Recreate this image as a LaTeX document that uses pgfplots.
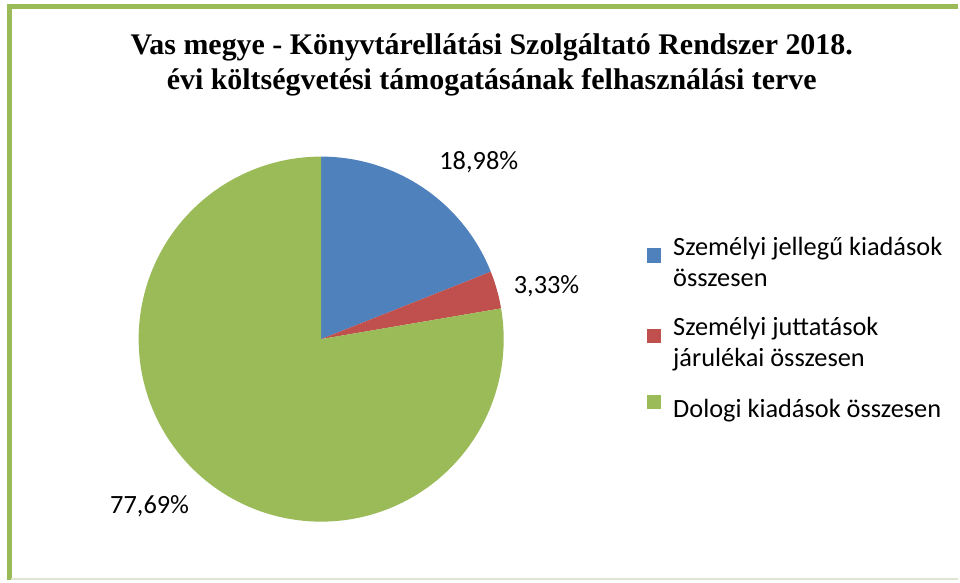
\documentclass[border=0pt]{standalone}
\usepackage{pgfplots}
\pgfplotsset{compat=1.18}
\usepackage{pgfplotstable}
\usepackage{fontspec}
\setmainfont{Carlito}
\newfontfamily\titlefont{Liberation Serif}
\definecolor{pieblue}{HTML}{4F81BD}
\definecolor{piered}{HTML}{C0504D}
\definecolor{piegreen}{HTML}{9BBB59}
\definecolor{framegreen}{HTML}{9BBB59}
\pgfplotstableread{
id value
1 18.98
2 3.33
3 77.69
}\piedata
\begin{document}
\begin{tikzpicture}
\pgfplotstablegetelem{0}{value}\of\piedata \let\va\pgfplotsretval
\pgfplotstablegetelem{1}{value}\of\piedata \let\vb\pgfplotsretval
\pgfplotstablegetelem{2}{value}\of\piedata \let\vc\pgfplotsretval
\pgfmathsetmacro\aA{90}
\pgfmathsetmacro\aB{90-3.6*\va}
\pgfmathsetmacro\aC{\aB-3.6*\vb}
\pgfmathsetmacro\aD{\aC-3.6*\vc}
\begin{axis}[
  scale only axis, width=720pt, height=436.5pt,
  xmin=0, xmax=960, ymin=0, ymax=582,
  hide axis, clip=false,
  legend style={at={(axis cs:644,350)}, anchor=north west, draw=none, fill=none,
    font=\fontsize{19.8}{23.5}\selectfont, row sep=17.5pt,
    cells={align=left, anchor=base west}},
  legend cell align=left,
  legend image code/.code={\fill[#1] (0pt,0pt) rectangle (10.5pt,10.8pt);
    \path (18pt,0pt);},
]
\path (axis cs:0,0) rectangle (axis cs:960,582);
\addplot[fill=pieblue, draw=none, domain=\aB:\aA, samples=90]
  ({322+183*cos(x)},{242+183*sin(x)}) -- (axis cs:322,242) -- cycle;
\addlegendentry{Személyi jellegű kiadások\\összesen}
\addplot[fill=piered, draw=none, domain=\aC:\aB, samples=20]
  ({322+183*cos(x)},{242+183*sin(x)}) -- (axis cs:322,242) -- cycle;
\addlegendentry{Személyi juttatások\\járulékai összesen}
\addplot[fill=piegreen, draw=none, domain=\aD:\aC, samples=300]
  ({322+183*cos(x)},{242+183*sin(x)}) -- (axis cs:322,242) -- cycle;
\addlegendentry{Dologi kiadások összesen}
\draw[framegreen, line width=3.75pt] (axis cs:9.5,0) -- (axis cs:9.5,575.5);
\draw[framegreen, line width=3.75pt] (axis cs:7,575.5) -- (axis cs:960,575.5);
\draw[color={rgb,255:red,224;green,228;blue,208}, line width=1.5pt] (axis cs:11.5,1.5) -- (axis cs:960,1.5);
\node[font=\titlefont\bfseries\fontsize{22.5}{26.25}\selectfont, align=center, anchor=center]
  at (axis cs:493,516.5) {Vas megye - Könyvtárellátási Szolgáltató Rendszer 2018.\\évi költségvetési támogatásának felhasználási terve};
\node[font=\fontsize{19.8}{24}\selectfont] at (axis cs:480,419) {18,98\%};
\node[font=\fontsize{19.8}{24}\selectfont] at (axis cs:548,295) {3,33\%};
\node[font=\fontsize{19.8}{24}\selectfont] at (axis cs:150,74) {77,69\%};
\end{axis}
\end{tikzpicture}
\end{document}
